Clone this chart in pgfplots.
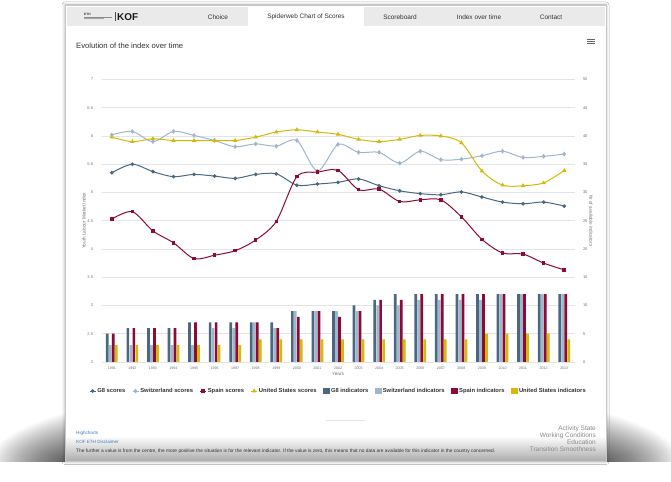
\documentclass[border=0pt]{standalone}
\usepackage{fontspec}
\setmainfont{Liberation Sans}
\usepackage{pgfplots}
\pgfplotsset{compat=1.18}
\usetikzlibrary{shadows.blur}
\definecolor{g8c}{HTML}{4A6880}
\definecolor{chc}{HTML}{9FB6CD}
\definecolor{esc}{HTML}{8C0A34}
\definecolor{usc}{HTML}{D4B90A}
\definecolor{gridc}{HTML}{E4E4E4}
\definecolor{tickc}{HTML}{707070}
\definecolor{txtc}{HTML}{333333}
\definecolor{navc}{HTML}{EAEAEA}
\definecolor{linkc}{HTML}{3F7AC0}
\definecolor{sidec}{HTML}{8A8A8A}
\newcommand{\fs}[1]{\fontsize{#1}{#1}\selectfont}
\begin{document}
\begin{tikzpicture}[x=1bp,y=1bp]
\path[use as bounding box, fill=white] (0,0) rectangle (671,482);
% curved side shadow above the panel bottom
\begin{scope}
\clip (0,20.5) rectangle (671,482);
\foreach \i in {0,...,29}
  \fill[black, opacity=0.026] (335.5,20.5) ellipse [x radius={272+2.5*\i}, y radius={20+2*\i}];
\end{scope}
% panel
\fill[white, blur shadow={shadow xshift=0bp, shadow yshift=0bp, shadow blur radius=3bp, shadow opacity=35}] (65,477) rectangle (606,20.5);
\shade[top color=white, bottom color=black!33] (65,46) rectangle (606,20.5);
\draw[black!22, line width=0.8bp] (65,20.5) rectangle (606,477);
% nav bar
\fill[navc] (66.5,474.5) rectangle (604.5,456);
\fill[white] (248,474.5) rectangle (364,456);
\node[font=\fs{6.5}, text=txtc] at (218,465) {Choice};
\node[font=\fs{6.5}, text=txtc] at (306,465) {Spiderweb Chart of Scores};
\node[font=\fs{6.5}, text=txtc] at (400,465) {Scoreboard};
\node[font=\fs{6.5}, text=txtc] at (479,465) {Index over time};
\node[font=\fs{6.5}, text=txtc] at (551,465) {Contact};
% logo
\node[font=\bfseries\fs{3.2}, text=black!80, anchor=west, inner sep=0] at (84,467.5) {ETH};
\draw[black!45, line width=0.4bp] (84,464.8) -- (112,464.8);
\draw[black!35, line width=0.3bp] (84,463.6) -- (104,463.6);
\draw[black!70, line width=0.5bp] (115,470) -- (115,460.5);
\node[font=\bfseries\fs{10}, text=black!90, anchor=west, inner sep=0] at (117,465.2) {KOF};
% title
\node[font=\fs{7.7}, text=txtc, anchor=west, inner sep=0] at (76,436) {Evolution of the index over time};
% menu icon
\foreach \yy in {438.3,440.3,442.3} \draw[black!60, line width=0.9bp] (587,\yy) -- (595,\yy);
% separator
\draw[black!10, line width=0.5bp] (326,61.5) -- (365,61.5);

% bar axis (right)
\begin{axis}[
  at={(101.5bp,120bp)}, anchor=south west, scale only axis,
  width=473bp, height=282.5bp,
  xmin=-0.5, xmax=22.5, ymin=0, ymax=50,
  axis line style={draw=none}, major tick length=0pt,
  xtick=\empty,
  ytick={0,5,...,50}, yticklabel pos=right,
  /pgf/number format/assume math mode=true,
  yticklabel style={font=\fs{4}, text=tickc, anchor=west, xshift=5bp},
  ylabel={Nr of available indicators},
  ylabel style={font=\fs{4.7}, text=tickc, at={(axis description cs:1.035,0.5)}, anchor=center, rotate=180},
  ymajorgrids, grid style={gridc, line width=0.8bp},
  ybar=0.3bp, bar width=2.7bp,
]
\addplot[fill=g8c, draw=none] coordinates {(0,5) (1,6) (2,6) (3,6) (4,7) (5,7) (6,7) (7,7) (8,7) (9,9) (10,9) (11,9) (12,10) (13,11) (14,12) (15,12) (16,12) (17,12) (18,12) (19,12) (20,12) (21,12) (22,12)};
\addplot[fill=chc, draw=none] coordinates {(0,3) (1,3) (2,3) (3,3) (4,3) (5,6) (6,6) (7,7) (8,6) (9,9) (10,9) (11,9) (12,9) (13,10) (14,10) (15,11) (16,11) (17,11) (18,11) (19,12) (20,12) (21,12) (22,12)};
\addplot[fill=esc, draw=none] coordinates {(0,5) (1,6) (2,6) (3,6) (4,7) (5,7) (6,7) (7,7) (8,6) (9,8) (10,9) (11,8) (12,9) (13,11) (14,11) (15,12) (16,12) (17,12) (18,12) (19,12) (20,12) (21,12) (22,12)};
\addplot[fill=usc, draw=none] coordinates {(0,3) (1,3) (2,3) (3,3) (4,3) (5,3) (6,3) (7,4) (8,4) (9,4) (10,4) (11,4) (12,4) (13,4) (14,4) (15,4) (16,4) (17,4) (18,5) (19,5) (20,5) (21,5) (22,4)};
\end{axis}

% line axis (left)
\begin{axis}[
  at={(101.5bp,120bp)}, anchor=south west, scale only axis,
  width=473bp, height=282.5bp,
  xmin=-0.5, xmax=22.5, ymin=2, ymax=7,
  axis line style={draw=none}, major tick length=0pt,
  xtick={0,...,22},
  xticklabels={1991,1992,1993,1994,1995,1996,1997,1998,1999,2000,2001,2002,2003,2004,2005,2006,2007,2008,2009,2010,2011,2012,2013},
  xticklabel style={font=\fs{3.6}, text=tickc, yshift=-1.5bp},
  ytick={2,2.5,...,7},
  /pgf/number format/assume math mode=true,
  yticklabel style={font=\fs{4}, text=tickc, anchor=east, xshift=-5bp},
  ylabel={Youth Labour Market Index},
  ylabel style={font=\fs{4.7}, text=tickc, at={(axis description cs:-0.037,0.5)}, anchor=center},
  xlabel={Years},
  xlabel style={font=\fs{4.7}, text=tickc, at={(axis description cs:0.5,-0.0425)}, anchor=center},
  legend columns=8,
  legend style={at={(0.5,-0.1027)}, anchor=center, draw=none, fill=none,
    font=\bfseries\fs{5.85}, text=txtc, inner sep=0pt,
    nodes={inner sep=1.2bp},
    /tikz/every even column/.append style={column sep=5.4bp}},
  legend image code/.code={\draw[mark repeat=2,mark phase=2,#1] plot coordinates {(0bp,0bp) (3bp,0bp) (6bp,0bp)};},
  every axis plot/.append style={line width=1bp, smooth, tension=0.5},
]
\addplot[g8c, mark=*, mark size=1.3bp] coordinates {(0,5.35) (1,5.50) (2,5.37) (3,5.28) (4,5.32) (5,5.29) (6,5.25) (7,5.32) (8,5.33) (9,5.13) (10,5.15) (11,5.18) (12,5.24) (13,5.12) (14,5.03) (15,4.98) (16,4.96) (17,5.01) (18,4.92) (19,4.83) (20,4.80) (21,4.83) (22,4.76)};
\addlegendentry{G8 scores}
\addplot[chc, mark=diamond*, mark size=1.6bp] coordinates {(0,6.02) (1,6.08) (2,5.90) (3,6.08) (4,6.01) (5,5.92) (6,5.81) (7,5.86) (8,5.82) (9,5.92) (10,5.38) (11,5.85) (12,5.71) (13,5.71) (14,5.52) (15,5.73) (16,5.58) (17,5.59) (18,5.65) (19,5.73) (20,5.62) (21,5.64) (22,5.68)};
\addlegendentry{Switzerland scores}
\addplot[esc, mark=square*, mark size=1.25bp] coordinates {(0,4.53) (1,4.66) (2,4.32) (3,4.11) (4,3.83) (5,3.89) (6,3.97) (7,4.16) (8,4.49) (9,5.28) (10,5.36) (11,5.39) (12,5.05) (13,5.06) (14,4.84) (15,4.87) (16,4.87) (17,4.57) (18,4.17) (19,3.93) (20,3.91) (21,3.75) (22,3.63)};
\addlegendentry{Spain scores}
\addplot[usc, mark=triangle*, mark size=1.6bp] coordinates {(0,5.98) (1,5.90) (2,5.95) (3,5.92) (4,5.92) (5,5.92) (6,5.92) (7,5.98) (8,6.07) (9,6.11) (10,6.07) (11,6.03) (12,5.94) (13,5.90) (14,5.94) (15,6.01) (16,6.00) (17,5.88) (18,5.38) (19,5.13) (20,5.12) (21,5.17) (22,5.39)};
\addlegendentry{United States scores}
\addlegendimage{legend image code/.code={\fill[g8c] (0bp,-2.8bp) rectangle (5.7bp,2.8bp);}}
\addlegendentry{G8 indicators}
\addlegendimage{legend image code/.code={\fill[chc] (0bp,-2.8bp) rectangle (5.7bp,2.8bp);}}
\addlegendentry{Switzerland indicators}
\addlegendimage{legend image code/.code={\fill[esc] (0bp,-2.8bp) rectangle (5.7bp,2.8bp);}}
\addlegendentry{Spain indicators}
\addlegendimage{legend image code/.code={\fill[usc] (0bp,-2.8bp) rectangle (5.7bp,2.8bp);}}
\addlegendentry{United States indicators}
\end{axis}

% footer
\node[font=\fs{4.6}, text=linkc, anchor=west, inner sep=0] at (76,49) {Highcharts};
\node[font=\fs{4.6}, text=linkc, anchor=west, inner sep=0] at (76,40) {KOF ETH Disclaimer};
\node[font=\fs{4.85}, text=txtc, anchor=west, inner sep=0] at (76,30.5) {The further a value is from the centre, the more positive the situation is for the relevant indicator. If the value is zero, this means that no data are available for this indicator in the country concerned.};
\node[font=\fs{6.5}, text=sidec, anchor=east, inner sep=0] at (596,53.4) {Activity State};
\node[font=\fs{6.5}, text=sidec, anchor=east, inner sep=0] at (596,46.4) {Working Conditions};
\node[font=\fs{6.5}, text=sidec, anchor=east, inner sep=0] at (596,39.5) {Education};
\node[font=\fs{6.5}, text=sidec, anchor=east, inner sep=0] at (596,32.5) {Transition Smoothness};
\end{tikzpicture}
\end{document}
